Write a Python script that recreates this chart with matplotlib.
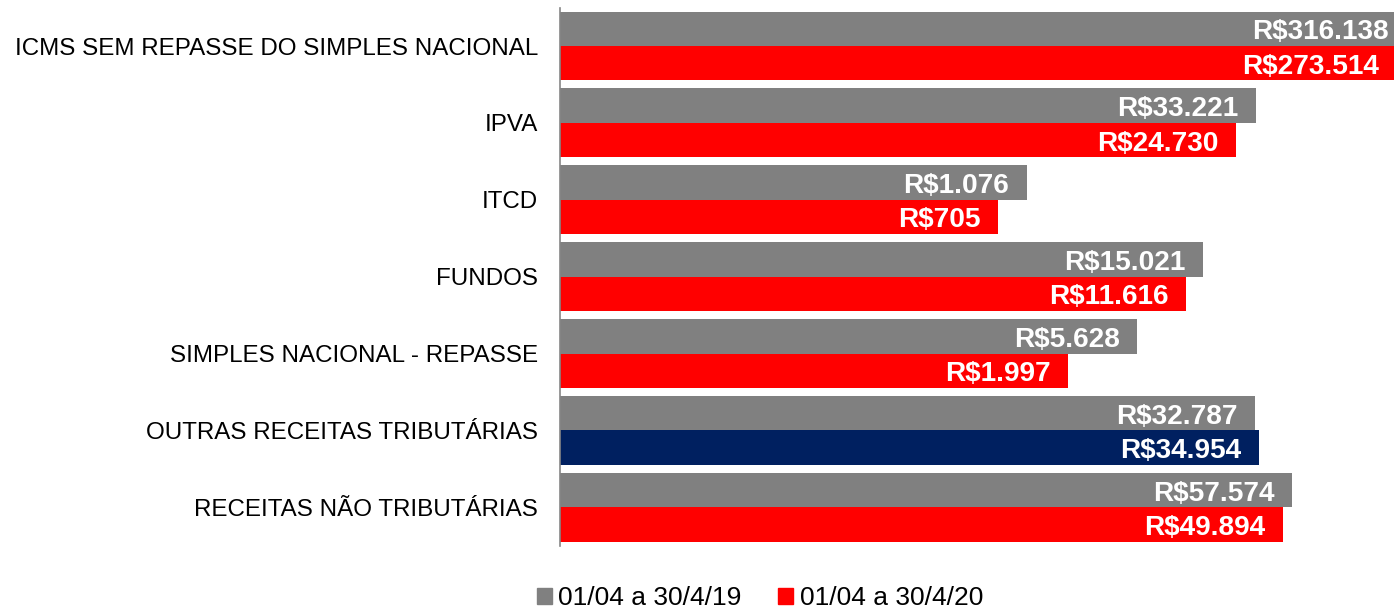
import numpy as np
import matplotlib.pyplot as plt
from matplotlib.patches import Patch

plt.rcParams['font.family'] = ['Liberation Sans', 'DejaVu Sans']

# dados (R$ mil)
categorias = [
    'ICMS SEM REPASSE DO SIMPLES NACIONAL',
    'IPVA',
    'ITCD',
    'FUNDOS',
    'SIMPLES NACIONAL - REPASSE',
    'OUTRAS RECEITAS TRIBUTÁRIAS',
    'RECEITAS NÃO TRIBUTÁRIAS',
]
valores_2019 = [316138, 33221, 1076, 15021, 5628, 32787, 57574]
valores_2020 = [273514, 24730, 705, 11616, 1997, 34954, 49894]
rotulos_2019 = ['R$316.138', 'R$33.221', 'R$1.076', 'R$15.021', 'R$5.628', 'R$32.787', 'R$57.574']
rotulos_2020 = ['R$273.514', 'R$24.730', 'R$705', 'R$11.616', 'R$1.997', 'R$34.954', 'R$49.894']
legenda = ['01/04 a 30/4/19', '01/04 a 30/4/20']

cinza = '#808080'
vermelho = '#FF0000'
azul = '#002060'
cores_2020 = [azul if c == 'OUTRAS RECEITAS TRIBUTÁRIAS' else vermelho for c in categorias]

fig = plt.figure(figsize=(13.94, 6.10), dpi=100)
# o eixo passa da borda direita da figura (barras cortadas como no original)
ax = fig.add_axes([560.3 / 1394, 0.1053, 6 * 153.8 / 1394, 0.8823])

y = np.arange(len(categorias))
h = 0.448
ax.barh(y - h / 2, valores_2019, height=h, color=cinza)
ax.barh(y + h / 2, valores_2020, height=h, color=cores_2020)

ax.set_xscale('log')
ax.set_xlim(1, 1e6)
ax.set_ylim(6.5, -0.5)

for i in range(len(categorias)):
    ax.annotate(rotulos_2019[i], (valores_2019[i], y[i] - h / 2), xytext=(-12.5, -2.5),
                textcoords='offset points', ha='right', va='center',
                color='white', fontsize=20.2, fontweight='bold')
    ax.annotate(rotulos_2020[i], (valores_2020[i], y[i] + h / 2), xytext=(-12.5, -2.5),
                textcoords='offset points', ha='right', va='center',
                color='white', fontsize=20.2, fontweight='bold')

ax.set_yticks(y)
ax.set_yticklabels(categorias, fontsize=17.4)
ax.tick_params(axis='y', length=0, pad=16)
ax.set_xticks([])
ax.xaxis.set_minor_locator(plt.NullLocator())
for s in ['top', 'right', 'bottom']:
    ax.spines[s].set_visible(False)
ax.spines['left'].set_color('#868686')
ax.spines['left'].set_linewidth(1.2)

handles = [Patch(color=cinza), Patch(color=vermelho)]
fig.legend(handles, legenda, loc='center', bbox_to_anchor=(760 / 1394, 1 - 598 / 610),
           ncol=2, frameon=False, fontsize=19, handlelength=0.55, handleheight=0.55,
           handletextpad=0.25, columnspacing=1.4, borderpad=0)

fig.savefig('out.png', dpi=100)
